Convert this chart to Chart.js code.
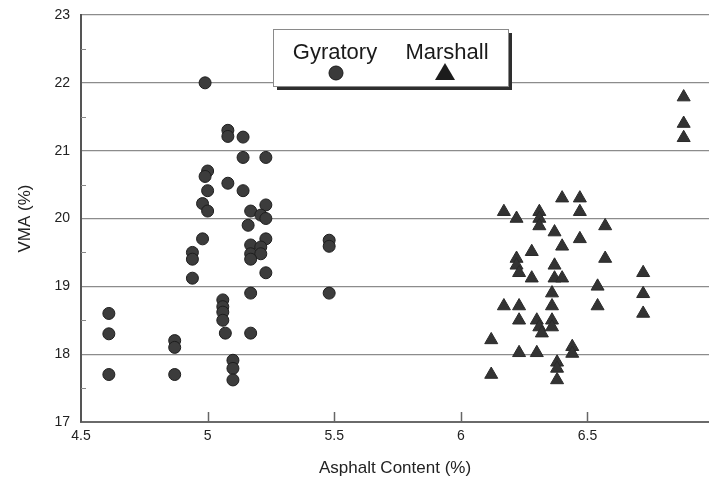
<!DOCTYPE html>
<html>
<head>
<meta charset="utf-8">
<title>VMA vs Asphalt Content</title>
<script src="https://cdn.jsdelivr.net/npm/chart.js@4/dist/chart.umd.min.js"></script>
<style>
  html, body { margin: 0; padding: 0; background: #fff; overflow: hidden; }
  #wrap { width: 709px; height: 484px; }
</style>
</head>
<body>
<div id="wrap"><canvas id="c" width="709" height="484"></canvas></div>
<script>
// Gyratory-compacted specimens: asphalt content (%) and VMA (%)
const gyrAsphalt = [
  4.61, 4.61, 4.61, 4.87, 4.87, 4.87, 4.94, 4.94, 4.94, 4.99,
  5.00, 4.99, 5.00, 4.98, 5.00, 4.98, 5.08, 5.08, 5.14, 5.08,
  5.14, 5.14, 5.06, 5.06, 5.06, 5.06, 5.07, 5.10, 5.10, 5.10,
  5.23, 5.23, 5.17, 5.21, 5.23, 5.16, 5.23, 5.17, 5.21, 5.17,
  5.21, 5.17, 5.23, 5.17, 5.17, 5.48, 5.48, 5.48
];
const gyrVMA = [
  18.60, 18.30, 17.70, 18.20, 18.10, 17.70, 19.50, 19.40, 19.12, 22.00,
  20.70, 20.62, 20.41, 20.22, 20.11, 19.70, 21.30, 21.21, 21.20, 20.52,
  20.90, 20.41, 18.80, 18.70, 18.62, 18.50, 18.31, 17.91, 17.79, 17.62,
  20.90, 20.20, 20.11, 20.05, 20.00, 19.90, 19.70, 19.61, 19.58, 19.48,
  19.48, 19.40, 19.20, 18.90, 18.31, 19.68, 19.59, 18.90
];

// Marshall-compacted specimens: asphalt content (%) and VMA (%)
const marAsphalt = [
  6.12, 6.12, 6.17, 6.17, 6.22, 6.22, 6.22, 6.23, 6.23, 6.23,
  6.23, 6.28, 6.28, 6.30, 6.31, 6.32, 6.30, 6.31, 6.31, 6.31,
  6.36, 6.36, 6.36, 6.36, 6.37, 6.37, 6.37, 6.38, 6.38, 6.38,
  6.40, 6.40, 6.40, 6.44, 6.44, 6.47, 6.47, 6.47, 6.54, 6.54,
  6.57, 6.57, 6.72, 6.72, 6.72, 6.88, 6.88, 6.88
];
const marVMA = [
  18.21, 17.70, 20.10, 18.71, 20.00, 19.41, 19.31, 19.20, 18.71, 18.50,
  18.02, 19.51, 19.12, 18.50, 18.40, 18.31, 18.02, 20.10, 20.00, 19.89,
  18.90, 18.71, 18.50, 18.40, 19.80, 19.31, 19.12, 17.88, 17.79, 17.62,
  20.30, 19.59, 19.12, 18.11, 18.01, 20.30, 20.10, 19.70, 19.00, 18.71,
  19.89, 19.41, 19.20, 18.89, 18.60, 21.79, 21.40, 21.19
];

// Axis ranges and tick labels
const xTicks = [4.5, 5, 5.5, 6, 6.5];
const yTicks = [17, 18, 19, 20, 21, 22, 23];
const seriesNames = ['Gyratory', 'Marshall'];

const FONT = "'Liberation Sans', Arial, Helvetica, sans-serif";
const toPoints = (xs, ys) => xs.map((x, i) => ({ x, y: ys[i] }));

// Inward tick marks on the bottom axis, half-step ticks on the left axis,
// and the boxed legend with a drop shadow.
const decorations = {
  id: 'decorations',
  afterDraw(chart) {
    const { ctx, chartArea: a, scales: { x, y } } = chart;
    ctx.save();
    ctx.strokeStyle = '#666';
    ctx.lineWidth = 1.5;
    xTicks.slice(1).forEach(v => {
      const px = Math.round(x.getPixelForValue(v)) + 0.5;
      ctx.beginPath();
      ctx.moveTo(px, a.bottom);
      ctx.lineTo(px, a.bottom - 10);
      ctx.stroke();
    });
    ctx.lineWidth = 1;
    ctx.strokeStyle = '#888';
    for (let i = 0; i < yTicks.length - 1; i++) {
      const py = Math.round(y.getPixelForValue(yTicks[i] + 0.5)) + 0.5;
      ctx.beginPath();
      ctx.moveTo(a.left, py);
      ctx.lineTo(a.left + 5, py);
      ctx.stroke();
    }

    // legend box
    const bx = 273, by = 29, bw = 235, bh = 57;
    ctx.fillStyle = '#2e2e2e';
    ctx.fillRect(bx + 4, by + 4, bw, bh);
    ctx.fillStyle = '#fff';
    ctx.fillRect(bx, by, bw, bh);
    ctx.strokeStyle = '#8a8a8a';
    ctx.lineWidth = 1;
    ctx.strokeRect(bx + 0.5, by + 0.5, bw, bh);

    ctx.fillStyle = '#1a1a1a';
    ctx.font = '22px ' + FONT;
    ctx.textAlign = 'center';
    ctx.textBaseline = 'alphabetic';
    ctx.fillText(seriesNames[0], 335, 59);
    ctx.fillText(seriesNames[1], 447, 59);

    ctx.fillStyle = '#3a3a3a';
    ctx.strokeStyle = '#1a1a1a';
    ctx.beginPath();
    ctx.arc(336, 73, 7, 0, Math.PI * 2);
    ctx.fill();
    ctx.stroke();

    ctx.fillStyle = '#1c1c1c';
    ctx.beginPath();
    ctx.moveTo(445, 63);
    ctx.lineTo(455, 80);
    ctx.lineTo(435, 80);
    ctx.closePath();
    ctx.fill();
    ctx.restore();
  }
};

new Chart(document.getElementById('c'), {
  type: 'scatter',
  data: {
    datasets: [
      {
        label: seriesNames[0],
        data: toPoints(gyrAsphalt, gyrVMA),
        pointStyle: 'circle',
        pointRadius: 6,
        pointBackgroundColor: '#3c3c3c',
        pointBorderColor: '#1e1e1e',
        pointBorderWidth: 1
      },
      {
        label: seriesNames[1],
        data: toPoints(marAsphalt, marVMA),
        pointStyle: 'triangle',
        pointRadius: 7.5,
        pointBackgroundColor: '#333',
        pointBorderColor: '#2a2a2a',
        pointBorderWidth: 1
      }
    ]
  },
  options: {
    responsive: false,
    animation: false,
    devicePixelRatio: 1,
    layout: { autoPadding: false, padding: { top: 15, right: 0, bottom: 0, left: 0 } },
    plugins: {
      legend: { display: false },
      tooltip: { enabled: false }
    },
    scales: {
      x: {
        type: 'linear',
        min: 4.5,
        max: 6.98,
        afterBuildTicks(scale) {
          scale.ticks = xTicks.map(v => ({ value: v }));
        },
        afterFit(scale) {
          scale.height = 62;
          scale.paddingLeft = 0;
          scale.paddingRight = 0;
        },
        ticks: {
          padding: 6,
          color: '#222',
          font: { family: FONT, size: 14 },
          maxRotation: 0,
          callback: v => String(v)
        },
        grid: { drawOnChartArea: false, drawTicks: false },
        border: { display: true, color: '#6a6a6a', width: 2 },
        title: {
          display: true,
          text: 'Asphalt Content (%)',
          color: '#222',
          font: { family: FONT, size: 17 },
          padding: { top: 0, bottom: 5 }
        }
      },
      y: {
        type: 'linear',
        min: 17,
        max: 23,
        afterBuildTicks(scale) {
          scale.ticks = yTicks.map(v => ({ value: v }));
        },
        afterFit(scale) {
          scale.width = 81;
          scale.paddingTop = 0;
          scale.paddingBottom = 0;
        },
        ticks: {
          padding: 11,
          color: '#222',
          font: { family: FONT, size: 14 },
          callback: v => String(v)
        },
        grid: { color: '#8c8c8c', lineWidth: 1.2, drawTicks: false },
        border: { display: true, color: '#555', width: 2 },
        title: {
          display: true,
          text: 'VMA (%)',
          color: '#222',
          font: { family: FONT, size: 17 },
          padding: { top: 15, bottom: 0 }
        }
      }
    }
  },
  plugins: [decorations]
});
</script>
</body>
</html>
